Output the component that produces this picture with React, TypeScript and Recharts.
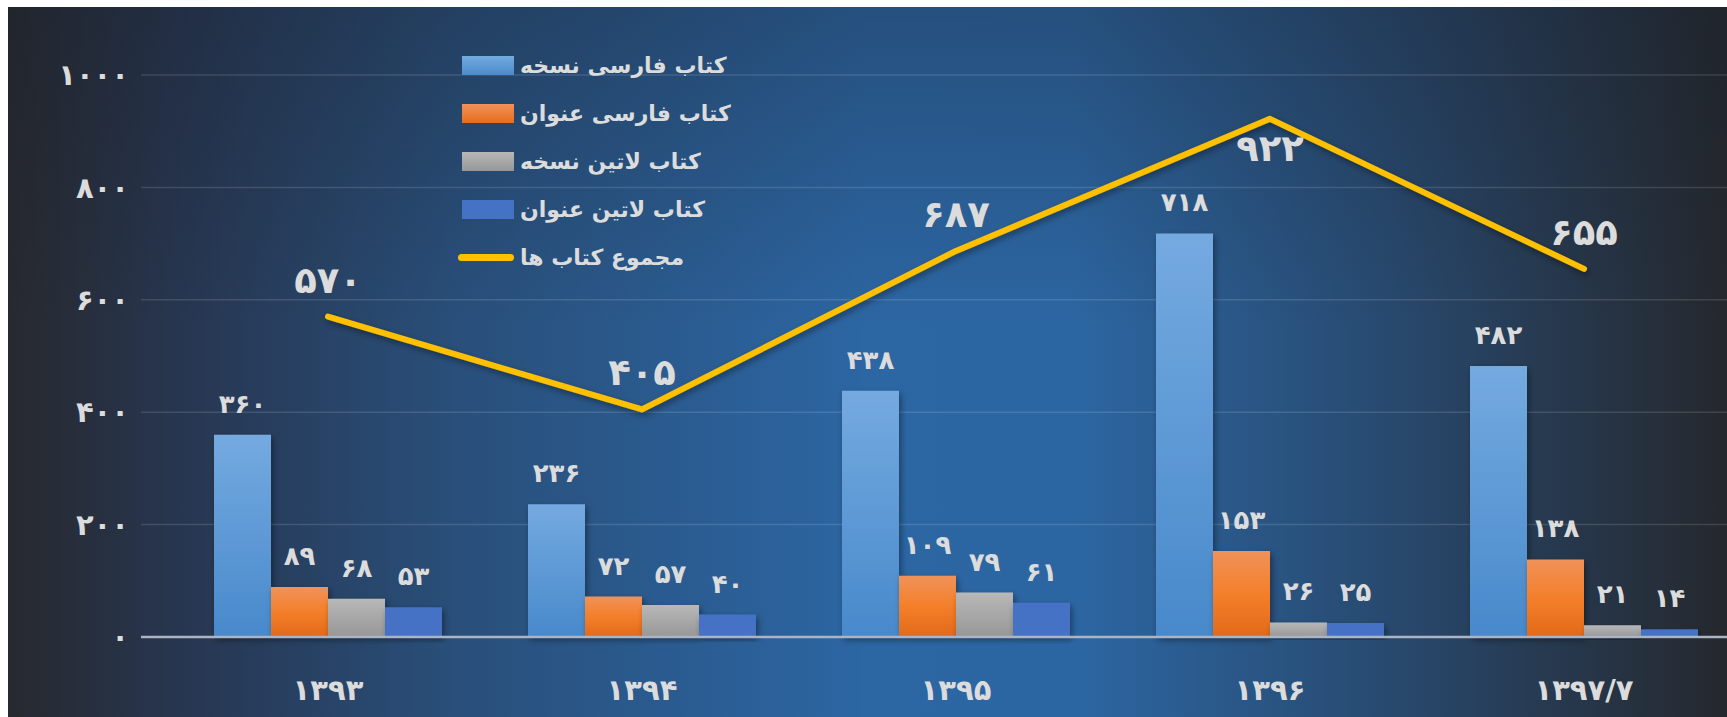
import React from "react";
import { ComposedChart, Bar, Line, XAxis, YAxis, CartesianGrid, LabelList, Legend } from "recharts";

const years = ["1393", "1394", "1395", "1396", "1397/7"];
const persianCopies = [360, 236, 438, 718, 482];
const persianTitles = [89, 72, 109, 153, 138];
const latinCopies = [68, 57, 79, 26, 21];
const latinTitles = [53, 40, 61, 25, 14];
const totalBooks = [570, 405, 687, 922, 655];
const yTicks = [0, 200, 400, 600, 800, 1000];

const seriesNames = [
  "کتاب فارسی نسخه",
  "کتاب فارسی عنوان",
  "کتاب لاتین نسخه",
  "کتاب لاتین عنوان",
  "مجموع کتاب ها",
];

const FONT = "'DejaVu Sans', sans-serif";
const TEXT = "#dcdcdc";

// latin digits -> persian digits
const toFa = (v: any) => String(v).replace(/\d/g, (d) => "۰۱۲۳۴۵۶۷۸۹"[+d]);

const data = years.map((y, i) => ({
  year: toFa(y),
  pc: persianCopies[i],
  pt: persianTitles[i],
  lc: latinCopies[i],
  lt: latinTitles[i],
  total: totalBooks[i],
}));

// label goes under the line only at an inner peak
const TotalLabel = (props: any) => {
  const { x, y, value, index } = props;
  const last = totalBooks.length - 1;
  const peak = index > 0 && index < last && value > totalBooks[index - 1] && value > totalBooks[index + 1];
  return (
    <text x={x} y={peak ? y + 42 : y - 24} textAnchor="middle" fill={TEXT}
      fontSize={37} fontWeight="bold" fontFamily={FONT}>
      {toFa(value)}
    </text>
  );
};

const LegendBox = () => {
  const css = [
    "linear-gradient(#74aae0, #4a8bcc)",
    "linear-gradient(#f0925a, #e86c1c)",
    "linear-gradient(#b8b8b8, #979797)",
    "#4472c4",
  ];
  return (
    <div style={{ fontFamily: FONT, color: TEXT, fontWeight: "bold", fontSize: 22 }}>
      {seriesNames.map((name, i) => (
        <div key={name} style={{ display: "flex", alignItems: "center", height: 48 }}>
          {i < 4 ? (
            <div style={{ width: 52, height: 19, background: css[i], marginLeft: 4, marginRight: 6 }} />
          ) : (
            <div style={{ width: 56, height: 7, borderRadius: 4, background: "#ffc000", marginRight: 6 }} />
          )}
          <span dir="rtl">{name}</span>
        </div>
      ))}
    </div>
  );
};

export default function App() {
  return (
    <div>
      <style>{"body{margin:0;overflow:hidden;background:#fff}"}</style>
      <div style={{ position: "absolute", left: 8, top: 7, width: 1719, height: 710, overflow: "hidden" }}>
        <div style={{ position: "absolute", inset: 0, background: "linear-gradient(90deg, #27292e 0%, #273650 10%, #294f7a 26%, #2c66a3 50%, #2c66a2 62%, #284a70 80%, #25282d 100%)" }} />
        <div style={{ position: "absolute", inset: 0, background: "linear-gradient(180deg, rgba(22,28,40,0.3) 0%, rgba(0,0,0,0) 45%)" }} />
        <div style={{ position: "absolute", left: 0, top: 0 }}>
          <ComposedChart
            width={1733}
            height={710}
            data={data}
            margin={{ top: 68, right: 0, bottom: 0, left: 0 }}
            barGap={0}
            barCategoryGap={43}
          >
            <defs>
              <linearGradient id="pcGrad" x1="0" y1="0" x2="0" y2="1">
                <stop offset="0%" stopColor="#74aae0" />
                <stop offset="100%" stopColor="#4889cb" />
              </linearGradient>
              <linearGradient id="ptGrad" x1="0" y1="0" x2="0" y2="1">
                <stop offset="0%" stopColor="#f0925a" />
                <stop offset="50%" stopColor="#f47f2a" />
                <stop offset="100%" stopColor="#e2691a" />
              </linearGradient>
              <linearGradient id="lcGrad" x1="0" y1="0" x2="0" y2="1">
                <stop offset="0%" stopColor="#b8b8b8" />
                <stop offset="100%" stopColor="#979797" />
              </linearGradient>
              <filter id="shadow" x="-10%" y="-10%" width="130%" height="130%">
                <feDropShadow dx="2" dy="3" stdDeviation="3" floodColor="#000" floodOpacity="0.4" />
              </filter>
            </defs>
            <CartesianGrid vertical={false} stroke="rgba(255,255,255,0.13)" strokeWidth={1.5} />
            <XAxis
              dataKey="year"
              height={80}
              padding={{ left: 30, right: 0 }}
              tickLine={false}
              tickSize={0}
              tickMargin={42}
              axisLine={{ stroke: "#aab4c4", strokeWidth: 2.5 }}
              tick={{ fill: TEXT, fontSize: 29, fontWeight: "bold", fontFamily: FONT }}
            />
            <YAxis
              width={133}
              domain={[0, 1000]}
              ticks={yTicks}
              tickFormatter={toFa}
              axisLine={false}
              tickLine={false}
              tickSize={0}
              tickMargin={12}
              tick={{ fill: TEXT, fontSize: 29, fontWeight: "bold", fontFamily: FONT }}
            />
            <Legend
              layout="vertical"
              align="center"
              verticalAlign="middle"
              content={LegendBox}
              wrapperStyle={{ left: 450, top: 34, width: 360, height: 250 }}
            />
            <Bar dataKey="pc" name={seriesNames[0]} fill="url(#pcGrad)" filter="url(#shadow)" isAnimationActive={false}>
              <LabelList dataKey="pc" position="top" offset={22} formatter={toFa} fill={TEXT} fontSize={26} fontWeight="bold" fontFamily={FONT} />
            </Bar>
            <Bar dataKey="pt" name={seriesNames[1]} fill="url(#ptGrad)" filter="url(#shadow)" isAnimationActive={false}>
              <LabelList dataKey="pt" position="top" offset={22} formatter={toFa} fill={TEXT} fontSize={26} fontWeight="bold" fontFamily={FONT} />
            </Bar>
            <Bar dataKey="lc" name={seriesNames[2]} fill="url(#lcGrad)" filter="url(#shadow)" isAnimationActive={false}>
              <LabelList dataKey="lc" position="top" offset={22} formatter={toFa} fill={TEXT} fontSize={26} fontWeight="bold" fontFamily={FONT} />
            </Bar>
            <Bar dataKey="lt" name={seriesNames[3]} fill="#4472c4" filter="url(#shadow)" isAnimationActive={false}>
              <LabelList dataKey="lt" position="top" offset={22} formatter={toFa} fill={TEXT} fontSize={26} fontWeight="bold" fontFamily={FONT} />
            </Bar>
            <Line
              dataKey="total"
              name={seriesNames[4]}
              type="linear"
              stroke="#ffc000"
              strokeWidth={6}
              strokeLinecap="round"
              strokeLinejoin="round"
              dot={false}
              activeDot={false}
              filter="url(#shadow)"
              isAnimationActive={false}
            >
              <LabelList dataKey="total" content={TotalLabel} />
            </Line>
          </ComposedChart>
        </div>
      </div>
    </div>
  );
}
